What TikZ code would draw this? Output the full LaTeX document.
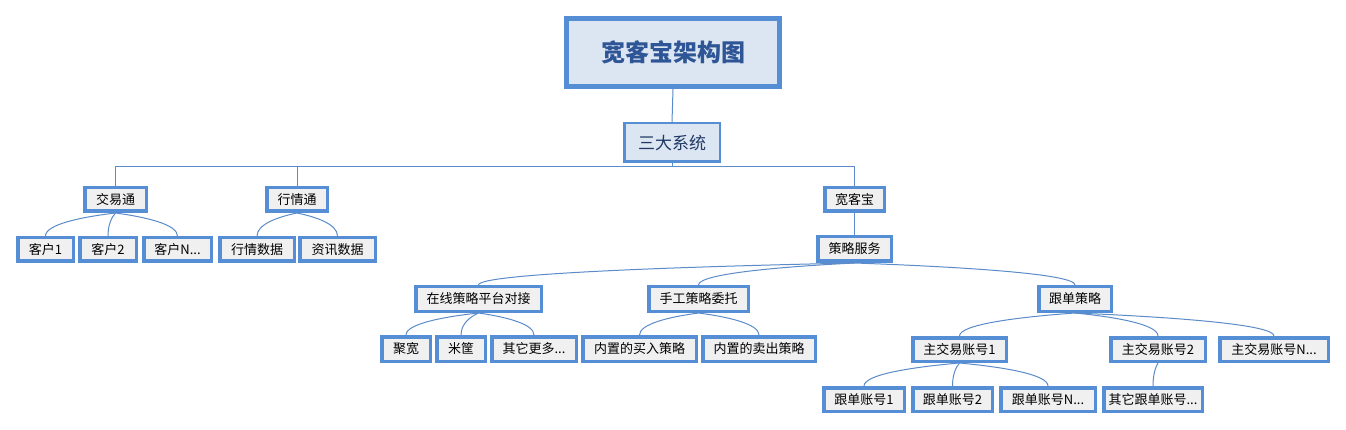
\documentclass[tikz,border=0pt]{standalone}
\usepackage{fontspec}
\setmainfont{Noto Sans CJK SC}
\usetikzlibrary{calc}
\definecolor{bd}{HTML}{558ED5}
\definecolor{fl}{HTML}{DCE6F2}
\definecolor{gf}{HTML}{F0F0F0}
\definecolor{ln}{HTML}{5B8BC8}
\definecolor{tt}{HTML}{2E5596}
\definecolor{sdt}{HTML}{1F3864}
\newcommand\bx[6]{\node[leaf, minimum width={#3-#2-3.5}, minimum height={#5-#4-3.5}] (#1) at ({(#2+#3)/2},{(#4+#5)/2}) {#6};}
\newcommand\cv[2]{%
  \path ($(#1.south)!0.5!(#1.south-|#2.north)$) coordinate (ca)
        ($(#2.north)!0.5!(#2.north-|#1.south)$) coordinate (cb);
  \draw[conn] (#1.south) .. controls ($(ca)!0.18!(cb)$) and ($(#2.north)!0.5!(#2.north|-#1.south)$) .. (#2.north);}
\begin{document}
\begin{tikzpicture}[x=1pt,y=-1pt,
  leaf/.style={draw=bd, fill=gf, line width=3.5pt, inner sep=0pt, font=\fontsize{13}{13}\selectfont, text=black},
  conn/.style={draw=ln, line width=1pt}]
\useasboundingbox (0,0) rectangle (1346,430);
\node[draw=bd, fill=fl, line width=5pt, inner sep=0pt, minimum width=213, minimum height=68, text=tt, font=\fontsize{24}{24}\selectfont\bfseries] (title) at (673,52.5) {宽客宝架构图};
\node[draw=bd, fill=fl, line width=2.5pt, inner sep=0pt, minimum width=95.5, minimum height=38.5, text=sdt, font=\fontsize{17}{17}\selectfont] (sd) at (672,142.5) {三大系统};
\bx{jyt}{83}{148}{186}{213}{交易通}
\bx{hqt}{265}{329}{186}{213}{行情通}
\bx{kkb}{823}{886}{186}{213}{宽客宝}
\bx{kh1}{16}{75}{236}{263}{客户1}
\bx{kh2}{78}{138}{236}{263}{客户2}
\bx{khn}{142}{213}{236}{263}{客户N...}
\bx{hqsj}{218}{296}{236}{263}{行情数据}
\bx{zxsj}{298}{377}{236}{263}{资讯数据}
\bx{clfw}{816}{893}{235}{263}{策略服务}
\bx{zx}{414}{543}{285}{313}{在线策略平台对接}
\bx{sg}{647}{750}{285}{313}{手工策略委托}
\bx{gd}{1037}{1113}{285}{313}{跟单策略}
\bx{jk}{380}{432}{335}{363}{聚宽}
\bx{mk}{435}{487}{335}{363}{米筐}
\bx{qt}{490}{578}{335}{363}{其它更多...}
\bx{mr}{581}{698}{335}{363}{内置的买入策略}
\bx{mc}{701}{817}{335}{363}{内置的卖出策略}
\bx{z1}{911}{1008}{336}{363}{主交易账号1}
\bx{z2}{1109}{1207}{336}{363}{主交易账号2}
\bx{zn}{1218}{1330}{336}{363}{主交易账号N...}
\bx{g1}{822}{906}{386}{413}{跟单账号1}
\bx{g2}{911}{994}{386}{413}{跟单账号2}
\bx{gn}{999}{1097}{386}{413}{跟单账号N...}
\bx{qg}{1102}{1204}{386}{413}{其它跟单账号...}
\coordinate (bus) at (0,167);
\draw[conn] (title.south) -- (sd.north);
\draw[conn] (sd.south) -- (sd.south|-bus);
\draw[conn] (jyt.north) |- (kkb.north|-bus) -- (kkb.north);
\draw[conn] (hqt.north) -- (hqt.north|-bus);
\draw[conn] (kkb.south) -- (clfw.north);
\cv{jyt}{kh1}\cv{jyt}{kh2}\cv{jyt}{khn}
\cv{hqt}{hqsj}\cv{hqt}{zxsj}
\cv{clfw}{zx}\cv{clfw}{sg}\cv{clfw}{gd}
\cv{zx}{jk}\cv{zx}{mk}\cv{zx}{qt}
\cv{sg}{mr}\cv{sg}{mc}
\cv{gd}{z1}\cv{gd}{z2}\cv{gd}{zn}
\cv{z1}{g1}\cv{z1}{g2}\cv{z1}{gn}
\cv{z2}{qg}
\end{tikzpicture}
\end{document}
